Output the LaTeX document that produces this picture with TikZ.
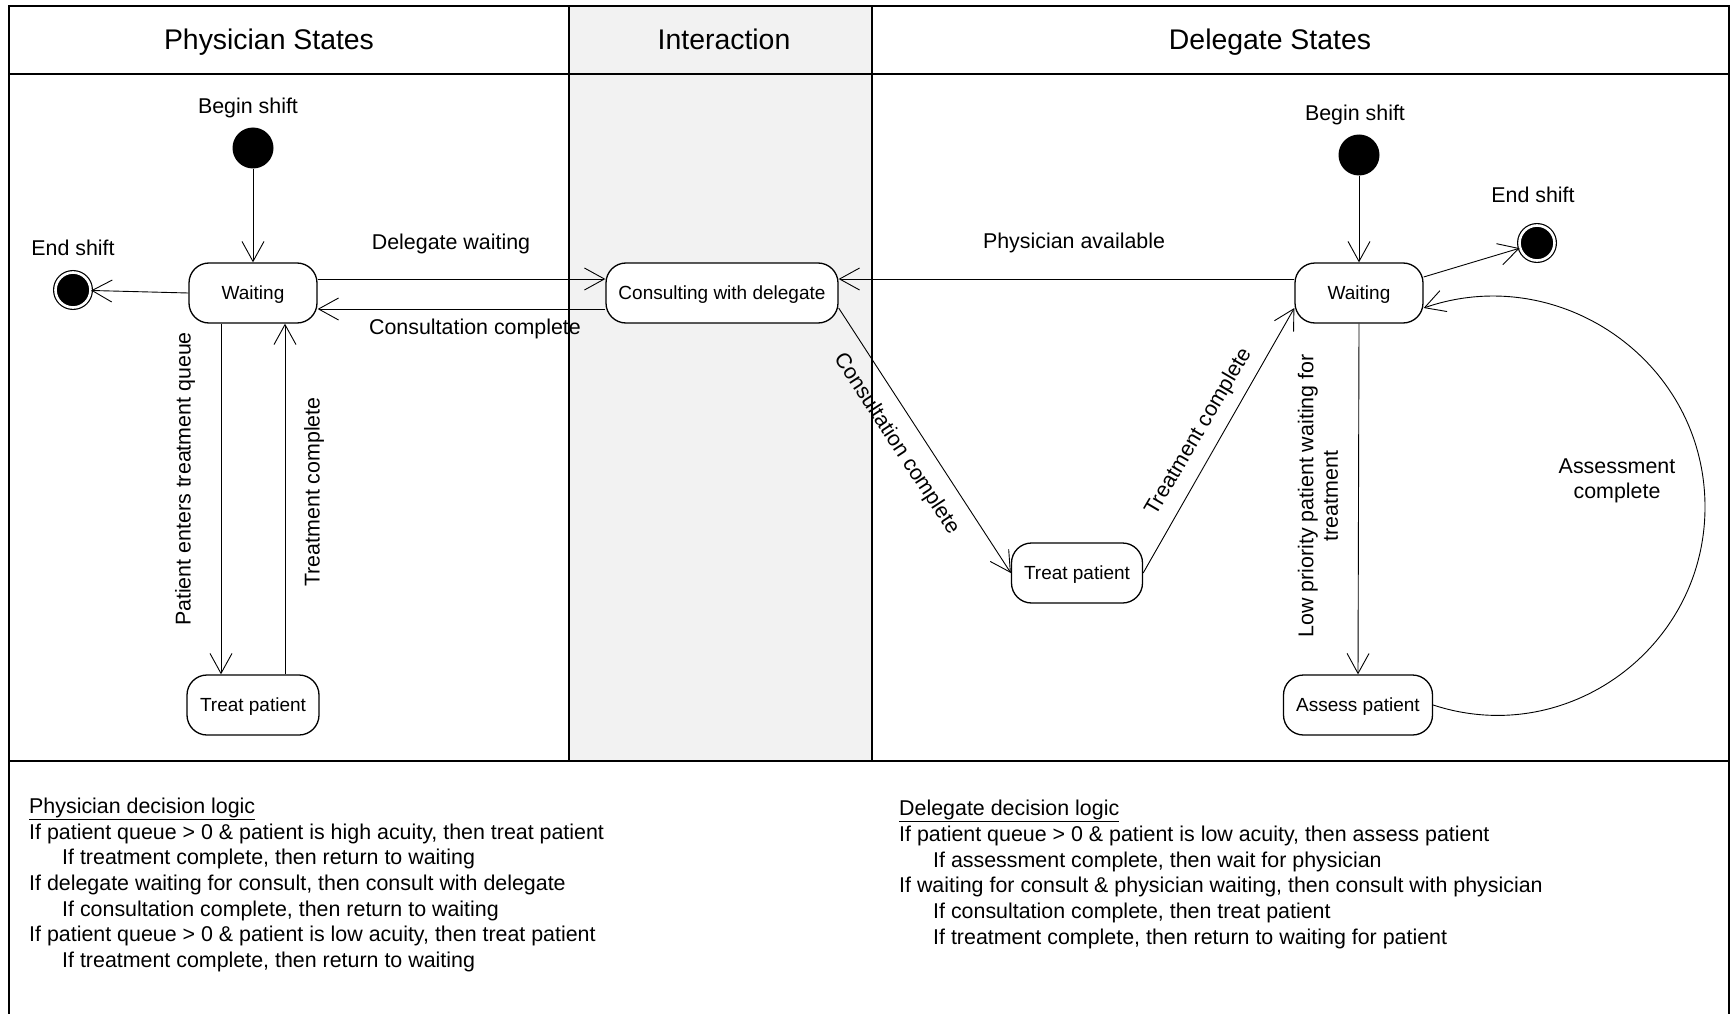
\documentclass[tikz,border=0pt]{standalone}
\usepackage{fontspec}
\setmainfont{Liberation Sans}
\usetikzlibrary{arrows.meta}
\definecolor{lanefill}{HTML}{F2F2F2}
\begin{document}
\begin{tikzpicture}[x=1pt,y=-1pt,
  frame/.style={line width=1.6pt},
  head/.style={font=\fontsize{28.4}{32}\selectfont, inner sep=0pt, text height=20.3pt, text depth=0pt},
  lbl/.style={font=\fontsize{21.4}{25}\selectfont, inner sep=0pt, text height=15.3pt, text depth=0pt},
  lbltwo/.style={font=\fontsize{21.4}{24.5}\selectfont, inner sep=0pt, align=center},
  logic/.style={font=\fontsize{21.4}{25}\selectfont, inner sep=0pt, anchor=base west},
  statebox/.style={draw, line width=1.3pt, rounded corners=20pt, fill=white,
    minimum height=60pt, inner sep=0pt, text height=13.6pt, text depth=0pt,
    font=\fontsize{19}{22}\selectfont},
  initstate/.style={circle, fill=black, minimum size=41pt, inner sep=0pt},
  finalstate/.style={circle, fill=black, draw=black, line width=1.2pt, double=white,
    double distance=2.6pt, minimum size=35pt, inner sep=0pt},
  trans/.style={line width=0.9pt, -{Straight Barb[length=20pt, width=22pt, line width=0.9pt]}},
]
\useasboundingbox (0,0) rectangle (1735,1014);
\fill[white] (0,0) rectangle (1735,1014);

% swimlanes
\fill[lanefill] (569,6) rectangle (872,761);
\draw[frame] (9,1014) -- (9,6) -- (1729,6) -- (1729,1014);
\draw[frame] (9,74) -- (1729,74);
\draw[frame] (9,761) -- (1729,761);
\draw[frame] (569,6) -- (569,761);
\draw[frame] (872,6) -- (872,761);

\node[head] (hphys) at (269,39) {Physician States};
\node[head] (hint)  at (724,39) {Interaction};
\node[head] (hdel)  at (1270,39) {Delegate States};

% physician states
\node[initstate] (pbegin) at (253,148) {};
\node[lbl] (pbeginlbl) at (248,106) {Begin shift};
\node[statebox, minimum width=128pt] (pwait) at (253,293) {Waiting};
\node[finalstate] (pend) at (73,290) {};
\node[lbl] (pendlbl) at (73,248) {End shift};
\node[statebox, minimum width=132pt] (ptreat) at (253,705) {Treat patient};

% interaction
\node[statebox, minimum width=232pt] (consult) at (722,293) {Consulting with delegate};

% delegate states
\node[initstate] (dbegin) at (1359,155) {};
\node[lbl] (dbeginlbl) at (1355,113) {Begin shift};
\node[statebox, minimum width=128pt] (dwait) at (1359,293) {Waiting};
\node[finalstate] (dend) at (1537,243) {};
\node[lbl] (dendlbl) at (1533,195) {End shift};
\node[statebox, minimum width=131pt] (dtreat) at (1077,573) {Treat patient};
\node[statebox, minimum width=149pt] (assess) at (1358,705) {Assess patient};

% physician transitions
\draw[trans] (pbegin) -- (pwait);
\draw[trans] (pwait.west) -- (pend);
\draw[trans] ([xshift=-32pt]pwait.south) -- ([xshift=-32pt]ptreat.north);
\draw[trans] ([xshift=32pt]ptreat.north) -- ([xshift=32pt]pwait.south);
\draw[trans] ([yshift=14pt]pwait.east) -- ([yshift=14pt]consult.west);
\draw[trans] ([yshift=-16pt]consult.west) -- ([yshift=-16pt]pwait.east);

\node[lbl] (lpq) at (183,479) [rotate=90] {Patient enters treatment queue};
\node[lbl] (lptc) at (312,492) [rotate=90] {Treatment complete};
\node[lbl] (ldw) at (451,242) {Delegate waiting};
\node[lbl] (lpcc) at (475,327) {Consultation complete};

% delegate transitions
\draw[trans] (dbegin) -- (dwait);
\draw[trans] ([yshift=16pt]dwait.east) -- (dend);
\draw[trans] ([yshift=14pt]dwait.west) -- ([yshift=14pt]consult.east);
\draw[trans] ([yshift=-15pt]consult.east) -- (dtreat.west);
\draw[trans] (dtreat.east) -- ([yshift=-15pt]dwait.west);
\draw[trans] (dwait.south) -- (assess.north);
\coordinate (loopright) at (1705,507);
\draw[trans] (assess.east) .. controls (1567,749) and (1705,648) .. (loopright)
  .. controls (1705,361) and (1559,261) .. ([yshift=-15pt]dwait.east);

\node[lbl] (lpa) at (1074,241) {Physician available};
\node[lbl] (ldcc) at (898,443) [rotate=-56.8] {Consultation complete};
\node[lbl] (ldtc) at (1197,431) [rotate=59.6] {Treatment complete};
\node[lbltwo] (llow) at (1318,496) [rotate=90] {Low priority patient waiting for\\treatment};
\node[lbltwo] (lac) at (1617,481) {Assessment\\complete};

% decision logic
\node[logic] (p0) at (29,813) {\underline{Physician decision logic}};
\node[logic] (p1) at (29,839) {If patient queue > 0 \& patient is high acuity, then treat patient};
\node[logic] (p2) at (62,864) {If treatment complete, then return to waiting};
\node[logic] (p3) at (29,890) {If delegate waiting for consult, then consult with delegate};
\node[logic] (p4) at (62,916) {If consultation complete, then return to waiting};
\node[logic] (p5) at (29,941) {If patient queue > 0 \& patient is low acuity, then treat patient};
\node[logic] (p6) at (62,967) {If treatment complete, then return to waiting};

\node[logic] (d0) at (899,815) {\underline{Delegate decision logic}};
\node[logic] (d1) at (899,841) {If patient queue > 0 \& patient is low acuity, then assess patient};
\node[logic] (d2) at (933,867) {If assessment complete, then wait for physician};
\node[logic] (d3) at (899,892) {If waiting for consult \& physician waiting, then consult with physician};
\node[logic] (d4) at (933,918) {If consultation complete, then treat patient};
\node[logic] (d5) at (933,944) {If treatment complete, then return to waiting for patient};
\end{tikzpicture}
\end{document}
